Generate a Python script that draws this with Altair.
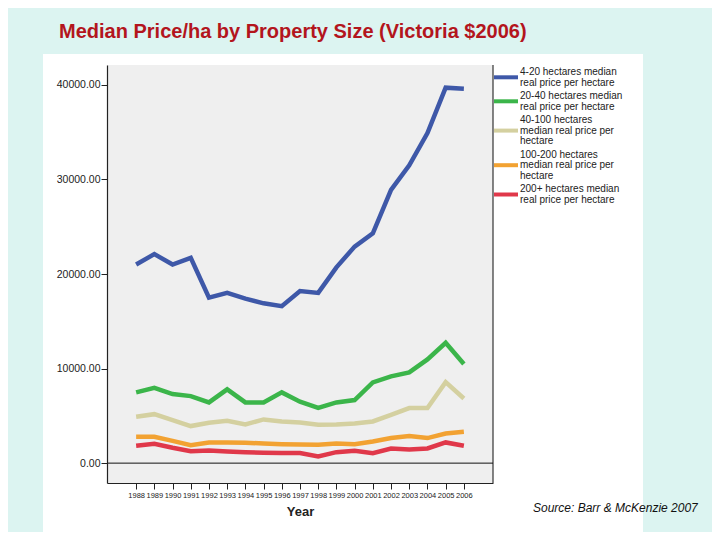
import altair as alt
import pandas as pd

years = list(range(1988, 2007))
series_names = [
    "4-20 hectares median real price per hectare",
    "20-40 hectares median real price per hectare",
    "40-100 hectares median real price per hectare",
    "100-200 hectares median real price per hectare",
    "200+ hectares median real price per hectare",
]
legend_lines = [
    ["4-20 hectares median", "real price per hectare"],
    ["20-40 hectares median", "real price per hectare"],
    ["40-100 hectares", "median real price per", "hectare"],
    ["100-200 hectares", "median real price per", "hectare"],
    ["200+ hectares median", "real price per hectare"],
]
series_colors = ["#3e58a8", "#3bb54a", "#d4d0a0", "#f2a232", "#e0384a"]
ha_4_20 = [21000, 22100, 21000, 21700, 17500, 18000, 17400, 16900, 16600, 18200,
           18000, 20700, 22900, 24300, 28900, 31500, 34900, 39700, 39600]
ha_20_40 = [7480, 7970, 7300, 7090, 6420, 7800, 6420, 6420, 7480, 6500,
            5850, 6420, 6670, 8540, 9170, 9600, 10970, 12730, 10480]
ha_40_100 = [4900, 5180, 4550, 3920, 4270, 4480, 4090, 4620, 4410, 4300,
             4060, 4080, 4200, 4410, 5110, 5820, 5820, 8570, 6840]
ha_100_200 = [2790, 2790, 2360, 1900, 2190, 2190, 2150, 2080, 2010, 1970,
              1940, 2080, 2010, 2290, 2650, 2860, 2650, 3140, 3320]
ha_200_plus = [1830, 2040, 1620, 1270, 1340, 1230, 1160, 1090, 1060, 1060,
               710, 1160, 1300, 1060, 1550, 1440, 1550, 2190, 1830]
y_ticks = [0, 10000, 20000, 30000, 40000]

all_series = [ha_4_20, ha_20_40, ha_40_100, ha_100_200, ha_200_plus]
rows = []
for name, vals in zip(series_names, all_series):
    for yr, v in zip(years, vals):
        rows.append({"Year": yr, "Price": v, "Series": name})
df = pd.DataFrame(rows)

W, H = 386, 418
FONT = "Liberation Sans, Arial, sans-serif"
one = pd.DataFrame({"a": [0]})

panel = alt.Chart(one).mark_rect(color="white").encode(
    x=alt.value(-64), x2=alt.value(536), y=alt.value(-11), y2=alt.value(474))
plotbg = alt.Chart(one).mark_rect(color="#efefef").encode(
    x=alt.value(0), x2=alt.value(W), y=alt.value(0), y2=alt.value(H))
rborder = alt.Chart(one).mark_rule(color="#333333", strokeWidth=1.2).encode(
    x=alt.value(W), y=alt.value(0), y2=alt.value(H))

xscale = alt.Scale(domain=[1986.4, 2007.6], nice=False, zero=False)
yscale = alt.Scale(domain=[-2100, 42100], nice=False, zero=False)

zero = alt.Chart(pd.DataFrame({"v": [0]})).mark_rule(color="#111111", strokeWidth=1).encode(
    y=alt.Y("v:Q", scale=yscale))

lines = alt.Chart(df).mark_line(strokeWidth=4.5, strokeJoin="miter").encode(
    x=alt.X("Year:Q", scale=xscale,
            axis=alt.Axis(values=years, format="d", title="Year", labelFontSize=7.5,
                          labelColor="#222222", tickSize=6, tickColor="#222222",
                          domainColor="#222222", domainWidth=1.2, labelPadding=2,
                          titleFontSize=13, titleFontWeight="bold", titleColor="#222222",
                          titlePadding=7, titleFont=FONT, labelFont=FONT, grid=False,
                          zindex=1, labelOverlap=False, labelFlush=False)),
    y=alt.Y("Price:Q", scale=yscale,
            axis=alt.Axis(values=y_ticks, format=".2f", title=None, labelFontSize=10.5,
                          labelColor="#222222", tickSize=6, tickColor="#222222",
                          domainColor="#222222", domainWidth=1.2, labelPadding=1,
                          labelFont=FONT, grid=False, zindex=1)),
    color=alt.Color("Series:N",
                    scale=alt.Scale(domain=series_names, range=series_colors),
                    legend=None),
    detail="Series:N",
)

# hand-built legend (guide, not data)
LH = 10.6      # line height
GAP = 13.4     # from last line of one entry to first line of next
leg_layers = []
ytop = 7.0
for txt, col in zip(legend_lines, series_colors):
    n = len(txt)
    sym_y = ytop + (n - 1) * LH / 2
    leg_layers.append(
        alt.Chart(one).mark_rule(color=col, strokeWidth=4).encode(
            x=alt.value(W + 1), x2=alt.value(W + 25), y=alt.value(sym_y)))
    leg_layers.append(
        alt.Chart(one).mark_text(text=txt, font=FONT, fontSize=10, lineHeight=LH,
                                 align="left", baseline="middle", color="#222222").encode(
            x=alt.value(W + 27), y=alt.value(ytop)))
    ytop += (n - 1) * LH + GAP

source = alt.Chart(one).mark_text(
    text="Source: Barr & McKenzie 2007", font=FONT, fontSize=12, fontStyle="italic",
    align="left", baseline="alphabetic", color="#111111").encode(
    x=alt.value(426), y=alt.value(447))

chart = alt.layer(panel, plotbg, rborder, zero, lines, *leg_layers, source).properties(
    width=W, height=H,
    background="#dcf4f1",
    padding={"left": 99, "top": 57, "right": 219, "bottom": 49},
    autosize=alt.AutoSizeParams(type="none"),
    title=alt.TitleParams("Median Price/ha by Property Size (Victoria $2006)",
                          anchor="start", frame="group", dx=-48, offset=12,
                          fontSize=20, font=FONT, fontWeight="bold", color="#b3151d"),
).configure_view(stroke=None)

chart.save("out.html", embed_options={"renderer": "svg", "actions": False})
